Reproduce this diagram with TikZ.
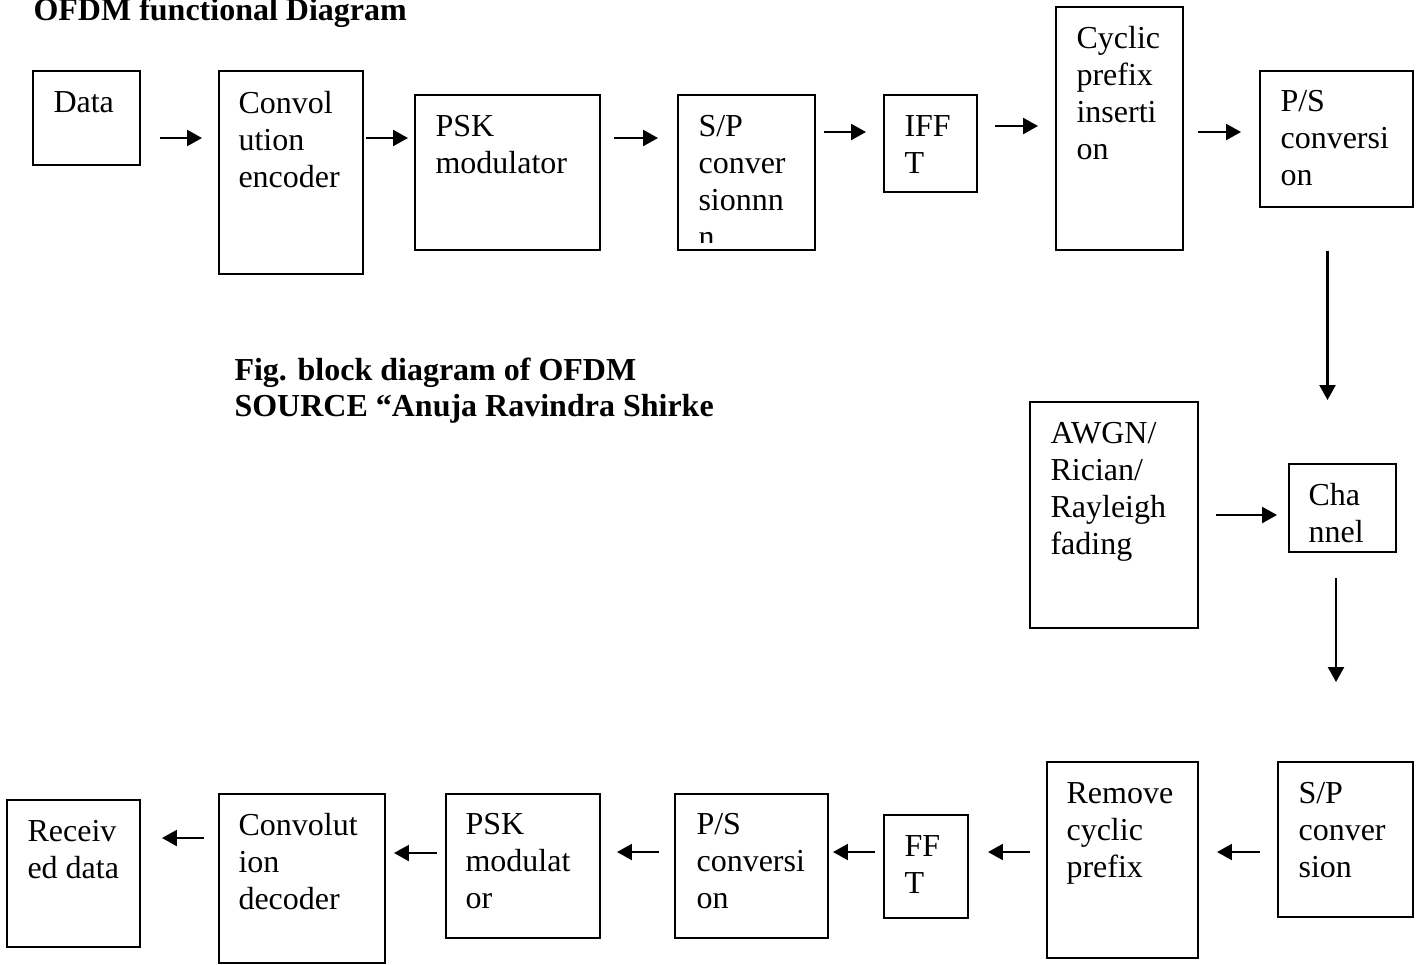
\documentclass[tikz,border=0pt]{standalone}
\usepackage{fontspec}
\setmainfont{Liberation Serif}
\usepackage{tikz}
\usetikzlibrary{calc,fit,arrows.meta}
\newcommand{\tnr}{\fontsize{12}{13.8}\selectfont}

\begin{document}
\begin{tikzpicture}[
    x=0.375pt, y=-0.375pt,
    every node/.style={font=\tnr},
    blk/.style={draw, line width=0.75pt, inner sep=0pt},
    txt/.style={anchor=north west, align=left, inner sep=0pt},
    ttl/.style={anchor=north west, align=left, inner sep=0pt, font=\tnr\bfseries},
    arr/.style={line width=0.8pt, -{Triangle[length=5.6pt, width=6pt]}},
]

\useasboundingbox (0,0) rectangle (1418,964);

\node[ttl] (title) at (33,-3) {OFDM functional Diagram};
\node[ttl] (caption) at (234,357) {Fig. block diagram of OFDM\\SOURCE “Anuja Ravindra Shirke};

% Transmitter
\node[blk, fit={(33,71) (140,165)}] (data) {};
\node[blk, fit={(219,71) (363,274)}] (conv) {};
\node[blk, fit={(415,95) (600,250)}] (psk) {};
\node[blk, fit={(678,95) (815,250)}] (sp) {};
\node[blk, fit={(884,95) (977,192)}] (ifft) {};
\node[blk, fit={(1056,7) (1183,250)}] (cp) {};
\node[blk, fit={(1260,71) (1413,207)}] (ps) {};

\node[txt] (data-t) at ([shift={(21,21)}]data.north west) {Data};
\node[txt] (conv-t) at ([shift={(20,21)}]conv.north west) {Convol\\ution\\encoder};
\node[txt] (psk-t) at ([shift={(21,21)}]psk.north west) {PSK\\modulator};
\begin{scope}
  \clip (sp.north west) rectangle ($(sp.south east)+(0,-9)$);
  \node[txt] (sp-t) at ([shift={(21,21)}]sp.north west) {S/P\\conver\\sionnn\\n};
\end{scope}
\node[txt] (ifft-t) at ([shift={(21,21)}]ifft.north west) {IFF\\T};
\node[txt] (cp-t) at ([shift={(21,20)}]cp.north west) {Cyclic\\prefix\\inserti\\on};
\node[txt] (ps-t) at ([shift={(21,20)}]ps.north west) {P/S\\conversi\\on};

\draw[arr] ($(data.north east)+(19,68)$) -- ($(conv.north west)+(-16,68)$);
\draw[arr] ($(conv.north east)+(2,68)$) -- ($(psk.north west)+(-6,44)$);
\draw[arr] ($(psk.north east)+(13,44)$) -- ($(sp.north west)+(-19,44)$);
\draw[arr] ($(sp.north east)+(8,38)$) -- ($(ifft.north west)+(-17,38)$);
\draw[arr] ($(ifft.north east)+(17,32)$) -- ($(cp.north west)+(-17,120)$);
\draw[arr] ($(cp.north east)+(14,126)$) -- ($(ps.north west)+(-18,62)$);

% Channel
\node[blk, fit={(1030,402) (1198,628)}] (awgn) {};
\node[blk, fit={(1289,464) (1396,552)}] (chan) {};

\node[txt] (awgn-t) at ([shift={(21,21)}]awgn.north west) {AWGN/\\Rician/\\Rayleigh\\fading};
\node[txt] (chan-t) at ([shift={(20,20)}]chan.north west) {Cha\\nnel};

\draw[arr] ($(ps.south)+(-9,43)$) -- ($(chan.north)+(-15,-63)$);
\draw[arr] ($(awgn.north east)+(17,114)$) -- ($(chan.north west)+(-11,52)$);

% Receiver
\node[blk, fit={(1278,762) (1413,917)}] (rsp) {};
\node[blk, fit={(1047,762) (1198,958)}] (rcp) {};
\node[blk, fit={(884,815) (968,918)}] (fft) {};
\node[blk, fit={(675,794) (828,938)}] (rps) {};
\node[blk, fit={(446,794) (600,938)}] (rpsk) {};
\node[blk, fit={(219,794) (385,963)}] (dec) {};
\node[blk, fit={(7,800) (140,947)}] (rx) {};

\node[txt] (rsp-t) at ([shift={(21,21)}]rsp.north west) {S/P\\conver\\sion};
\node[txt] (rcp-t) at ([shift={(20,21)}]rcp.north west) {Remove\\cyclic\\prefix};
\node[txt] (fft-t) at ([shift={(21,21)}]fft.north west) {FF\\T};
\node[txt] (rps-t) at ([shift={(22,20)}]rps.north west) {P/S\\conversi\\on};
\node[txt] (rpsk-t) at ([shift={(20,20)}]rpsk.north west) {PSK\\modulat\\or};
\node[txt] (dec-t) at ([shift={(20,20)}]dec.north west) {Convolut\\ion\\decoder};
\node[txt] (rx-t) at ([shift={(21,21)}]rx.north west) {Receiv\\ed data};

\draw[arr] ($(chan.south)+(-6.5,25)$) -- ($(rsp.north)+(-9.5,-79)$);
\draw[arr] ($(rsp.north west)+(-17,91)$) -- ($(rcp.north east)+(18,91)$);
\draw[arr] ($(rcp.north west)+(-16,91)$) -- ($(fft.north east)+(19,38)$);
\draw[arr] ($(fft.north west)+(-8,38)$) -- ($(rps.north east)+(4,59)$);
\draw[arr] ($(rps.north west)+(-15,59)$) -- ($(rpsk.north east)+(16,59)$);
\draw[arr] ($(rpsk.north west)+(-8,60)$) -- ($(dec.north east)+(8,60)$);
\draw[arr] ($(dec.north west)+(-14,45)$) -- ($(rx.north east)+(21,39)$);

\end{tikzpicture}
\end{document}
